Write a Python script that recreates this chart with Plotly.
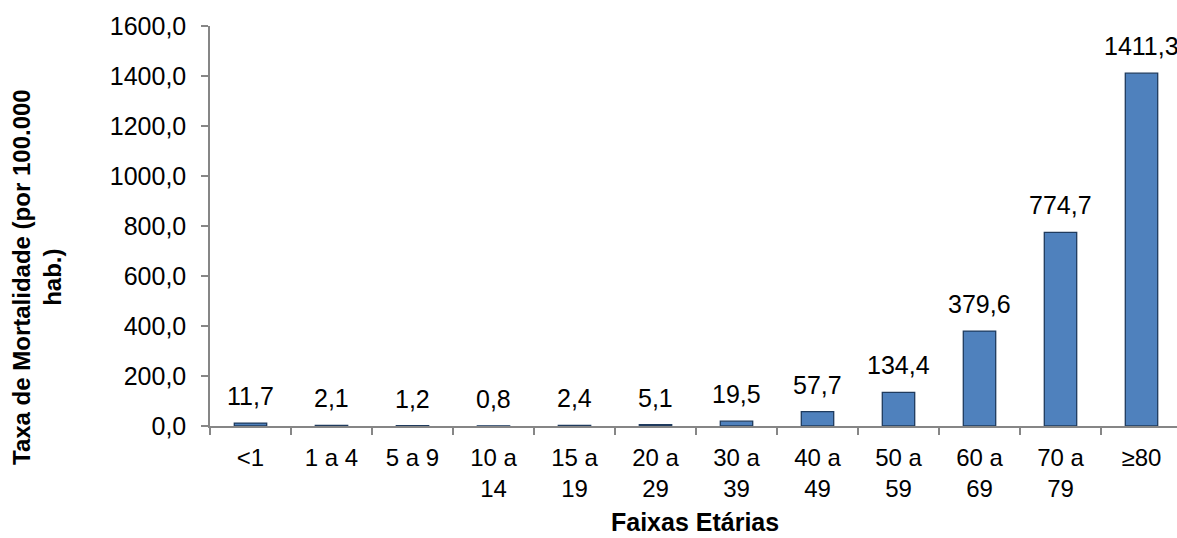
import plotly.graph_objects as go

categories = ["<1", "1 a 4", "5 a 9", "10 a<br>14", "15 a<br>19", "20 a<br>29",
              "30 a<br>39", "40 a<br>49", "50 a<br>59", "60 a<br>69", "70 a<br>79", "≥80"]
values = [11.7, 2.1, 1.2, 0.8, 2.4, 5.1, 19.5, 57.7, 134.4, 379.6, 774.7, 1411.3]
y_ticks = [0, 200, 400, 600, 800, 1000, 1200, 1400, 1600]

FONT = "Liberation Sans, Arial, sans-serif"
GREY = "#868686"

W, H = 1177, 538
L, R, T, B = 210, 0, 26, 112
pw, ph = W - L - R, H - T - B

fig = go.Figure()
fig.add_trace(go.Bar(
    x=categories, y=values, width=0.4,
    marker=dict(color="#4F81BD", line=dict(color="#1F3B5E", width=1.3)),
    hoverinfo="skip",
))

annotations = []
for c, v in zip(categories, values):
    annotations.append(dict(
        x=c, y=v, xref="x", yref="y", text=f"{v:.1f}".replace(".", ","),
        showarrow=False, yanchor="bottom", yshift=11,
        font=dict(family=FONT, size=25, color="#000000"),
    ))
annotations.append(dict(
    x=(695 - L) / pw, y=(H - B - 522) / ph, xref="paper", yref="paper",
    text="<b>Faixas Etárias</b>", showarrow=False, xanchor="center", yanchor="middle",
    font=dict(family=FONT, size=25, color="#000000"),
))
annotations.append(dict(
    x=(37 - L) / pw, y=(H - B - 277) / ph, xref="paper", yref="paper",
    text="<b>Taxa de Mortalidade (por 100.000<br>hab.)</b>", showarrow=False,
    textangle=-90, xanchor="center", yanchor="middle",
    font=dict(family=FONT, size=24, color="#000000"),
))

fig.update_layout(
    width=W, height=H,
    margin=dict(l=L, r=R, t=T, b=B, pad=0),
    paper_bgcolor="white", plot_bgcolor="white",
    separators=",.",
    showlegend=False,
    font=dict(family=FONT, size=25, color="#000000"),
    annotations=annotations,
    xaxis=dict(
        type="category", range=[-0.5, -0.5 + pw / 81.0],
        showline=True, linecolor=GREY, linewidth=1.5,
        ticks="outside", tickson="boundaries", ticklen=7, tickcolor=GREY, tickwidth=1.5,
        ticklabelstandoff=9,
        tickfont=dict(family=FONT, size=24, color="#000000"),
        showgrid=False, zeroline=False,
    ),
    yaxis=dict(
        range=[0, 1600], tickvals=y_ticks, tickformat=".1f",
        showline=True, linecolor=GREY, linewidth=1.5,
        ticks="outside", ticklen=7, tickcolor=GREY, tickwidth=1.5,
        ticklabelstandoff=10,
        tickfont=dict(family=FONT, size=25, color="#000000"),
        showgrid=False, zeroline=False,
    ),
)

fig.write_html("out.html")
